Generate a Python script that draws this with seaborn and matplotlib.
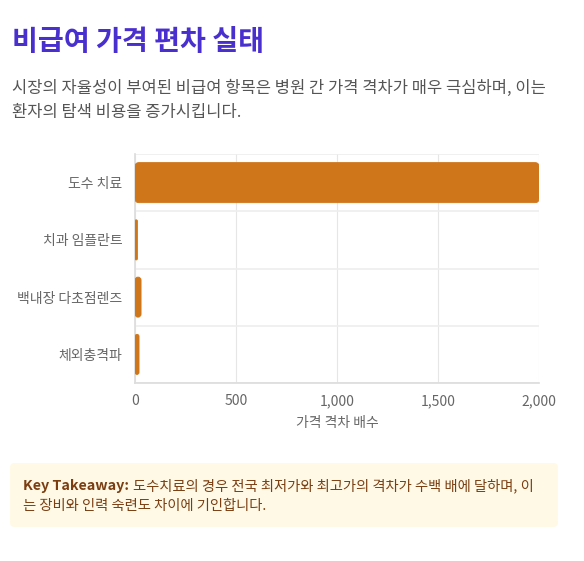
import pandas as pd
import matplotlib.pyplot as plt
import seaborn as sns
from matplotlib.patches import FancyBboxPatch

# 데이터
items = ['도수 치료', '치과 임플란트', '백내장 다초점렌즈', '체외충격파']
gap_ratio = [2000, 12, 30, 20]
x_ticks = [0, 500, 1000, 1500, 2000]
x_ticklabels = ['0', '500', '1,000', '1,500', '2,000']

df = pd.DataFrame({'항목': items, '배수': gap_ratio})

sns.set_theme(style="white")
plt.rcParams['font.family'] = ['Noto Sans CJK KR', 'DejaVu Sans']

W, H = 584, 561
fig = plt.figure(figsize=(W / 100, H / 100), dpi=100)
fig.patch.set_facecolor('white')

def fx(px):
    return px / W

def fy(py):
    return 1 - py / H

bar_color = '#D0761A'

# 제목 / 설명
fig.text(fx(12), fy(42), '비급여 가격 편차 실태', fontsize=20.3, fontweight='bold',
         color='#4A2FCF', va='center', ha='left')
fig.text(fx(12), fy(88), '시장의 자율성이 부여된 비급여 항목은 병원 간 가격 격차가 매우 극심하며, 이는',
         fontsize=11.9, color='#555555', va='center', ha='left')
fig.text(fx(12), fy(113), '환자의 탐색 비용을 증가시킵니다.',
         fontsize=11.9, color='#555555', va='center', ha='left')

# 차트
ax_l, ax_r, ax_t, ax_b = 135, 539, 154, 383
ax = fig.add_axes([fx(ax_l), fy(ax_b), (ax_r - ax_l) / W, (ax_b - ax_t) / H])
sns.barplot(data=df, y='항목', x='배수', orient='h', color=bar_color,
            saturation=1, width=0.7, ax=ax)

ax.set_xlim(0, 2000)
ax.set_ylim(len(items) - 0.5, -0.5)

# 막대 모서리를 둥글게
px_per_x = (ax_r - ax_l) / 2000
px_per_y = (ax_b - ax_t) / len(items)
aspect = px_per_x / px_per_y
r_px = 4
for p in list(ax.patches):
    x0, y0 = p.get_x(), p.get_y()
    w, h = p.get_width(), p.get_height()
    r = min(r_px / px_per_x, w / 2)
    rb = FancyBboxPatch((x0, y0), w, h,
                        boxstyle=f'round,pad=0,rounding_size={r}',
                        mutation_aspect=aspect, facecolor=bar_color,
                        edgecolor=bar_color, linewidth=0.6, zorder=3)
    p.remove()
    ax.add_patch(rb)

ax.set_xticks(x_ticks)
ax.set_xticklabels(x_ticklabels, fontsize=10, color='#666666')
ax.set_yticks(range(len(items)))
ax.set_yticklabels(items, fontsize=10, color='#666666')
ax.set_yticks([i - 0.5 for i in range(len(items) + 1)], minor=True)
ax.tick_params(axis='y', which='both', length=0, pad=9)
ax.tick_params(axis='x', which='both', length=0, pad=8)
ax.grid(axis='x', which='major', color='#E6E6E6', linewidth=0.8)
ax.grid(axis='y', which='minor', color='#EEEEEE', linewidth=1.2)
ax.set_axisbelow(True)
for s in ['top', 'right']:
    ax.spines[s].set_visible(False)
ax.spines['left'].set_color('#DDDDDD')
ax.spines['bottom'].set_color('#DDDDDD')
ax.set_ylabel('')
ax.set_xlabel('가격 격차 배수', fontsize=10, color='#666666', labelpad=6)

# Key Takeaway 박스
box = FancyBboxPatch((fx(10), fy(527)), fx(548), (527 - 463) / H,
                     boxstyle='round,pad=0,rounding_size=0.008',
                     transform=fig.transFigure, facecolor='#FFF9E6',
                     edgecolor='none', zorder=0)
fig.patches.append(box)

t_bold = fig.text(fx(23), fy(486), 'Key Takeaway:', fontsize=10.3, fontweight='bold',
                  color='#7A3E12', va='center', ha='left')
fig.canvas.draw()
bb = t_bold.get_window_extent(renderer=fig.canvas.get_renderer())
fig.text(bb.x1 / W + fx(4), fy(486),
         '도수치료의 경우 전국 최저가와 최고가의 격차가 수백 배에 달하며, 이',
         fontsize=10.3, color='#7A3E12', va='center', ha='left')
fig.text(fx(23), fy(506), '는 장비와 인력 숙련도 차이에 기인합니다.',
         fontsize=10.3, color='#7A3E12', va='center', ha='left')

plt.savefig('out.png', dpi=100)
plt.close()
